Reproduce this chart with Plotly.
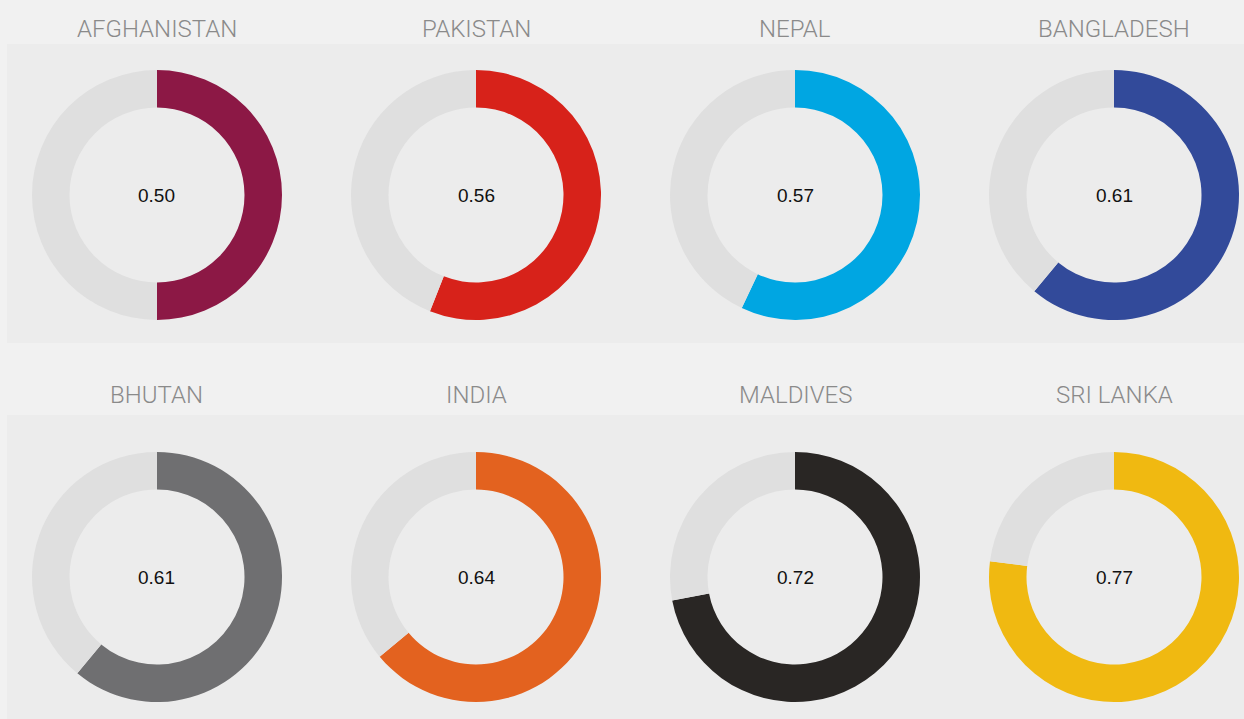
import plotly.graph_objects as go

countries = ["AFGHANISTAN", "PAKISTAN", "NEPAL", "BANGLADESH",
             "BHUTAN", "INDIA", "MALDIVES", "SRI LANKA"]
values = [0.50, 0.56, 0.57, 0.61, 0.61, 0.64, 0.72, 0.77]
colors = ["#8c1845", "#d7221a", "#00a6e2", "#324a9a",
          "#6f6f71", "#e3621f", "#292624", "#f0b911"]

W, H = 1244, 719
col_x = [157, 476, 795, 1114]
row_y = [195, 577]
title_y = [29, 395]
R = 125

fig = go.Figure()

# grey panels behind each row
for y0, y1 in [(44, 343), (415, 719)]:
    fig.add_shape(type="rect", xref="paper", yref="paper",
                  x0=7 / W, x1=1, y0=1 - y1 / H, y1=1 - y0 / H,
                  fillcolor="#ececec", line_width=0, layer="below")

for i, (name, v, c) in enumerate(zip(countries, values, colors)):
    cx = col_x[i % 4]
    cy = row_y[i // 4]
    fig.add_trace(go.Pie(
        values=[v, 1 - v],
        marker=dict(colors=[c, "#dfdfdf"], line=dict(width=0)),
        hole=0.70,
        sort=False,
        direction="clockwise",
        rotation=0,
        textinfo="none",
        hoverinfo="skip",
        showlegend=False,
        domain=dict(x=[(cx - R) / W, (cx + R) / W],
                    y=[1 - (cy + R) / H, 1 - (cy - R) / H]),
    ))
    fig.add_annotation(x=cx / W, y=1 - cy / H, xref="paper", yref="paper",
                       xanchor="center", yanchor="middle",
                       text=f"{v:.2f}", showarrow=False,
                       font=dict(family="Liberation Sans, Arial", size=19, color="#111111"))
    fig.add_annotation(x=cx / W, y=1 - title_y[i // 4] / H, xref="paper", yref="paper",
                       xanchor="center", yanchor="middle",
                       text=name, showarrow=False,
                       font=dict(family="Roboto", weight=300, size=24, color="#8a8a8a"))

fig.update_layout(
    width=W, height=H,
    margin=dict(l=0, r=0, t=0, b=0),
    paper_bgcolor="#f1f1f1",
    plot_bgcolor="#f1f1f1",
)

fig.write_html("out.html", config={"displayModeBar": False},
               post_script="document.body.style.margin='0';document.body.style.overflow='hidden';")
